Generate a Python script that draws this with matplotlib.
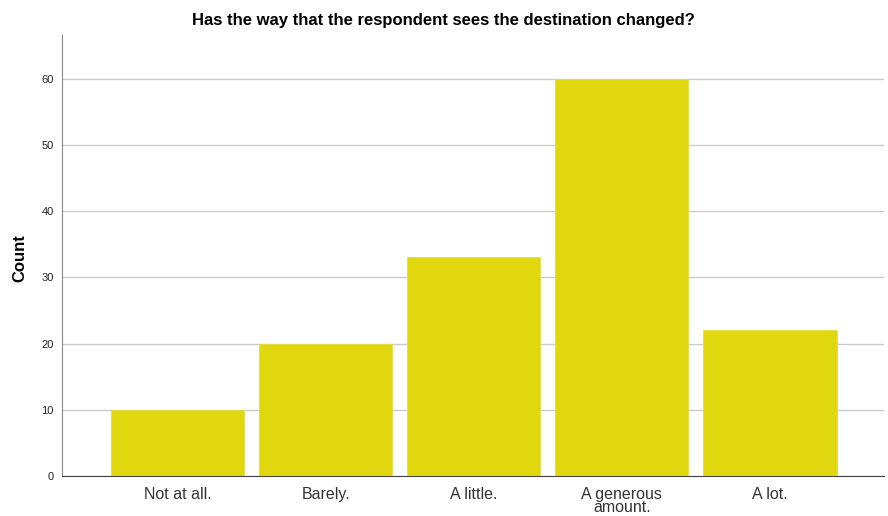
import numpy as np
import matplotlib
matplotlib.use("Agg")
import matplotlib.pyplot as plt

plt.rcParams["font.family"] = ["Liberation Sans", "DejaVu Sans"]

categories = ["Not at all.", "Barely.", "A little.", "A generous\namount.", "A lot."]
counts = [10, 20, 33, 60, 22]
yticks = [0, 10, 20, 30, 40, 50, 60]

fig = plt.figure(figsize=(8.88, 5.16), dpi=100)
ax = fig.add_axes([62/888, 40/516, 822/888, 441/516])

x = np.arange(len(categories))
ax.bar(x, counts, width=0.9, color="#E1D70E", edgecolor="#E8DF3A", linewidth=0.6, zorder=3)

ax.set_xlim(-0.78, 4.77)
ax.set_ylim(0, 66.6)
ax.set_yticks(yticks)
ax.set_yticklabels([str(v) for v in yticks], fontsize=8, color="#222222")
ax.set_xticks(x)
ax.set_xticklabels(categories, fontsize=11.5, color="#333333", linespacing=0.85)
ax.tick_params(axis="both", length=0)
ax.tick_params(axis="y", pad=6)
ax.tick_params(axis="x", pad=8)
ax.grid(axis="y", color="#CCCCCC", linewidth=1.0, zorder=0)

for s in ["top", "right"]:
    ax.spines[s].set_visible(False)
ax.spines["left"].set_color("#888888")
ax.spines["bottom"].set_color("#444444")

fig.text(20/888, 1 - 258/516, "Count", rotation=90, ha="center", va="center",
         fontsize=12, fontweight="bold")
fig.text(443/888, 1 - 20/516, "Has the way that the respondent sees the destination changed?",
         ha="center", va="center", fontsize=12, fontweight="bold")

plt.savefig("out.png", dpi=100)
